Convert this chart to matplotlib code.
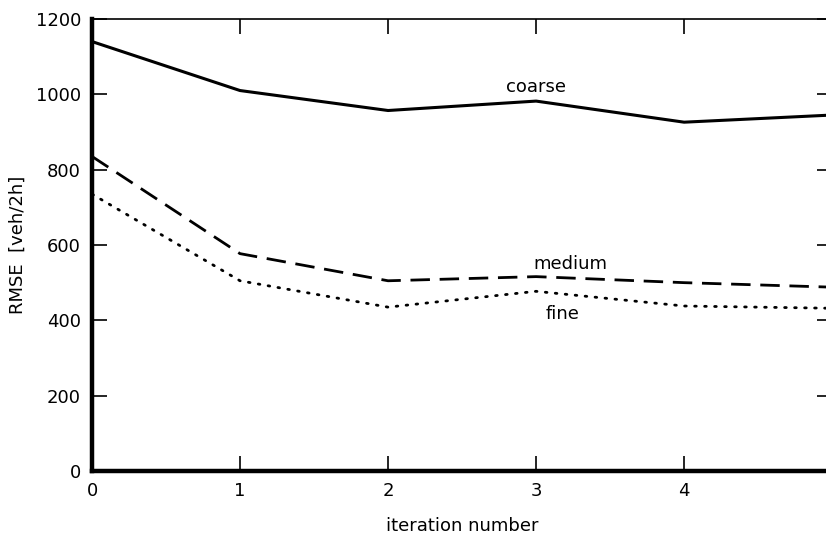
import matplotlib
matplotlib.use("Agg")
import matplotlib.pyplot as plt

iterations = [0, 1, 2, 3, 4, 5]
coarse = [1140, 1010, 957, 982, 926, 945]
medium = [835, 577, 505, 516, 500, 488]
fine = [735, 505, 435, 477, 438, 432]

x_ticks = [0, 1, 2, 3, 4, 5]
y_ticks = [0, 200, 400, 600, 800, 1000, 1200]

plt.rcParams['font.family'] = ['DejaVu Sans']

fig = plt.figure(figsize=(8.26, 5.42), dpi=100)
ax = fig.add_axes([0.1114, 0.131, 0.896, 0.834])

ax.plot(iterations, coarse, color='black', lw=2.2, solid_joinstyle='round')
ax.plot(iterations, medium, color='black', lw=2.0, dashes=(7, 3.5))
ax.plot(iterations, fine, color='black', lw=2.0, dashes=(0.6, 3.0), dash_capstyle='round')

ax.set_xlim(0, 5)
ax.set_ylim(0, 1200)
ax.set_xticks(x_ticks)
ax.set_yticks(y_ticks)
ax.set_xticklabels([str(v) for v in x_ticks])
ax.set_yticklabels([str(v) for v in y_ticks])

ax.spines['left'].set_linewidth(3.2)
ax.spines['bottom'].set_linewidth(3.2)
ax.spines['top'].set_linewidth(1.2)
ax.spines['right'].set_linewidth(1.2)

ax.tick_params(direction='in', length=11, width=1.2, top=True, right=True,
               labelsize=13, pad=8)

ax.text(3, 995, 'coarse', fontsize=13, ha='center', va='bottom')
ax.text(3.23, 525, 'medium', fontsize=13, ha='center', va='bottom')
ax.text(3.18, 440, 'fine', fontsize=13, ha='center', va='top')

ax.set_xlabel('iteration number', fontsize=13, labelpad=12)
ax.set_ylabel('RMSE  [veh/2h]', fontsize=13, labelpad=6)

fig.savefig('out.png', dpi=100)
